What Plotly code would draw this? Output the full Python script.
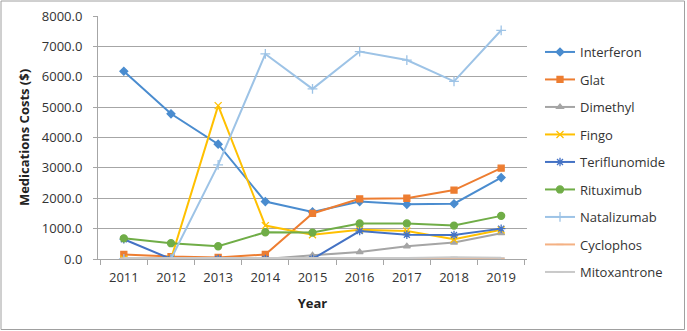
import plotly.graph_objects as go

years = ["2011", "2012", "2013", "2014", "2015", "2016", "2017", "2018", "2019"]
interferon = [6180, 4780, 3780, 1890, 1550, 1890, 1800, 1820, 2680]
glat = [150, 80, 50, 150, 1500, 1980, 2000, 2270, 2990]
dimethyl = [0, 0, 0, 0, 120, 230, 420, 540, 850]
fingo = [0, 0, 5050, 1100, 800, 960, 920, 650, 960]
teriflunomide = [650, 0, 0, 0, 0, 920, 800, 790, 1000]
rituximub = [680, 520, 420, 880, 870, 1170, 1170, 1100, 1420]
natalizumab = [0, 0, 3100, 6750, 5600, 6830, 6550, 5850, 7530]
cyclophos = [20, 20, 20, 20, 20, 20, 20, 20, 20]
mitoxantrone = [30, 30, 30, 30, 30, 30, 30, 60, 40]

series = [
    ("Interferon", interferon, "#4A8CCF", "diamond", 6),
    ("Glat", glat, "#ED7D31", "square", 6),
    ("Dimethyl", dimethyl, "#A5A5A5", "triangle-up", 6),
    ("Fingo", fingo, "#FFC000", "x-thin-open", 7),
    ("Teriflunomide", teriflunomide, "#4472C4", "asterisk-open", 7),
    ("Rituximub", rituximub, "#70AD47", "circle", 7),
    ("Natalizumab", natalizumab, "#9DC3E6", "cross-thin-open", 7),
    ("Cyclophos", cyclophos, "#F4B183", "line-ew-open", 5),
    ("Mitoxantrone", mitoxantrone, "#C9C9C9", "line-ew-open", 5),
]

fig = go.Figure()
for i, (name, vals, color, sym, size) in enumerate(series):
    fig.add_trace(go.Scatter(
        x=years, y=vals, name=name, mode="lines+markers",
        line=dict(color=color, width=2),
        marker=dict(symbol=sym, size=size, color=color, line=dict(color=color, width=1.3)),
        legendgroup=str(i),
    ))

W, H = 687, 331
L, R, T, B = 98, 160, 16, 72
pw, ph = W - L - R, H - T - B

fnt = "Open Sans, Lato, sans-serif"
fig.update_layout(
    width=W, height=H,
    margin=dict(l=L, r=R, t=T, b=B, autoexpand=False),
    paper_bgcolor="white", plot_bgcolor="white",
    font=dict(family=fnt, size=13, color="#333333"),
    showlegend=True,
    legend=dict(x=(540 - L) / pw, y=1 - (37 - T) / ph, xanchor="left", yanchor="top",
                traceorder="grouped", tracegroupgap=7.6, font=dict(size=13, family=fnt),
                itemwidth=30, bgcolor="rgba(0,0,0,0)", maxheight=330),
    xaxis=dict(title=dict(text="<b>Year</b>", font=dict(size=13, color="#222"), standoff=14),
               showgrid=False, showline=True, linecolor="#A6A6A6", ticks="outside",
               tickcolor="#A6A6A6", ticklen=5, tickson="boundaries", ticklabelstandoff=6,
               tickfont=dict(size=13, color="#333")),
    yaxis=dict(title=dict(text="<b>Medications Costs ($)</b>", font=dict(size=13, color="#222"), standoff=9),
               range=[0, 8000], dtick=1000, tickformat=".1f", showgrid=True,
               gridcolor="#A6A6A6", gridwidth=1, zeroline=False, showline=True,
               ticks="outside", ticklen=4, tickcolor="#A6A6A6",
               linecolor="#A6A6A6", ticklabelstandoff=8, tickfont=dict(size=13, color="#333")),
    shapes=[dict(type="rect", xref="paper", yref="paper",
                 x0=(1 - L) / pw, x1=(684.5 - L) / pw,
                 y0=-(329.5 - T - ph) / ph, y1=1 + (T - 1) / ph,
                 line=dict(color="#A0A0A0", width=1), layer="below")],
)

fig.write_html("out.html", config={"displayModeBar": False},
               post_script="document.body.style.margin='0';document.body.style.overflow='hidden';")
